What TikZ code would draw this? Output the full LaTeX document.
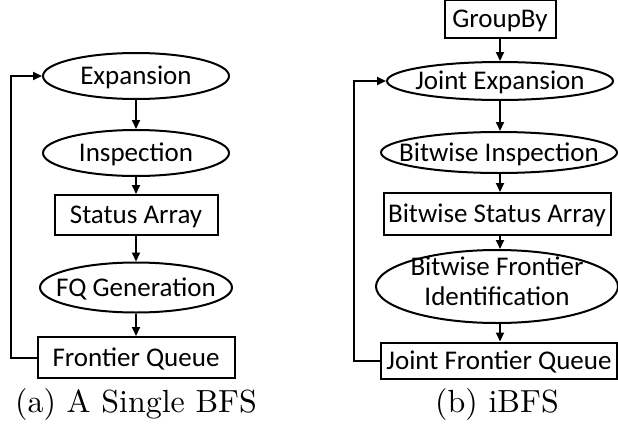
\documentclass[tikz,border=0pt]{standalone}
\usepackage{fontspec}
\newfontfamily\bfcal{Carlito}
\newfontfamily\bfroman{lmroman10-regular}[Extension=.otf]
\usepackage{tikz}
\usetikzlibrary{arrows.meta,shapes.geometric}
\tikzset{
  bfbox/.style  ={rectangle, draw=black, line width=2pt, fill=white, inner sep=0pt,
                  text height=17.3pt, text depth=0pt,
                  font=\bfcal\fontsize{27}{30}\selectfont},
  bfoval/.style ={ellipse, draw=black, line width=2pt, fill=white, inner sep=0pt,
                  text height=17.3pt, text depth=0pt,
                  font=\bfcal\fontsize{27}{30}\selectfont},
  bfarrow/.style={-{Triangle[length=9pt,width=8pt]}, line width=2pt, draw=black},
  bfcap/.style  ={font=\bfroman\fontsize{32}{38}\selectfont, inner sep=0pt},
}
\newcommand{\bfflat}[1]{\makebox[0pt]{#1}}

\begin{document}
\begin{tikzpicture}[x=1pt,y=-1pt]
  \useasboundingbox (0,0) rectangle (618,431);
  % (a) a single BFS
  \node[bfoval, minimum width=186pt, minimum height=46pt] (exp)   at (136,76)    {\bfflat{Expansion}};
  \node[bfoval, minimum width=186pt, minimum height=46pt] (insp)  at (136,153)   {\bfflat{Inspection}};
  \node[bfbox,  minimum width=163pt, minimum height=40pt] (sarr)  at (136,215)   {Status Array};
  \node[bfoval, minimum width=192pt, minimum height=50pt] (fqgen) at (136,287.5) {\bfflat{FQ Generation}};
  \node[bfbox,  minimum width=197pt, minimum height=41pt] (fq)    at (136,357.5) {Frontier Queue};
  \foreach \a/\b in {exp/insp, insp/sarr, sarr/fqgen, fqgen/fq}
    \draw[bfarrow] (\a) -- (\b);
  \draw[bfarrow] (fq.west) -- ++(-25.5,0) |- (exp.west);
  \node[bfcap, anchor=base] (capa) at (136,412) {(a) A Single BFS};
  % (b) iBFS
  \node[bfbox,  minimum width=111pt, minimum height=38pt] (grp)   at (500,19)    {GroupBy};
  \node[bfoval, minimum width=226pt, minimum height=38pt] (jexp)  at (500,81)    {\bfflat{Joint Expansion}};
  \node[bfoval, minimum width=236pt, minimum height=41pt] (binsp) at (499,152.5) {\bfflat{Bitwise Inspection}};
  \node[bfbox,  minimum width=227pt, minimum height=42pt] (bsarr) at (497,214)   {Bitwise Status Array};
  \node[bfoval, minimum width=242pt, minimum height=73pt, text height=8.4pt] (bfid) at (497,286.5)
       {\bfflat{\begin{tabular}{@{}c@{}}Bitwise Frontier\\Identification\end{tabular}}};
  \node[bfbox,  minimum width=236pt, minimum height=36pt] (jfq)   at (499,360.5) {Joint Frontier Queue};
  \foreach \a/\b in {grp/jexp, jexp/binsp, binsp/bsarr, bsarr/bfid, bfid/jfq}
    \draw[bfarrow] (\a.south -| grp) -- (\b.north -| grp);
  \draw[bfarrow] (jfq.west) -- ++(-26,0) |- (jexp.west);
  \node[bfcap, anchor=base] (capb) at (497,412) {(b) iBFS};
\end{tikzpicture}
\end{document}
